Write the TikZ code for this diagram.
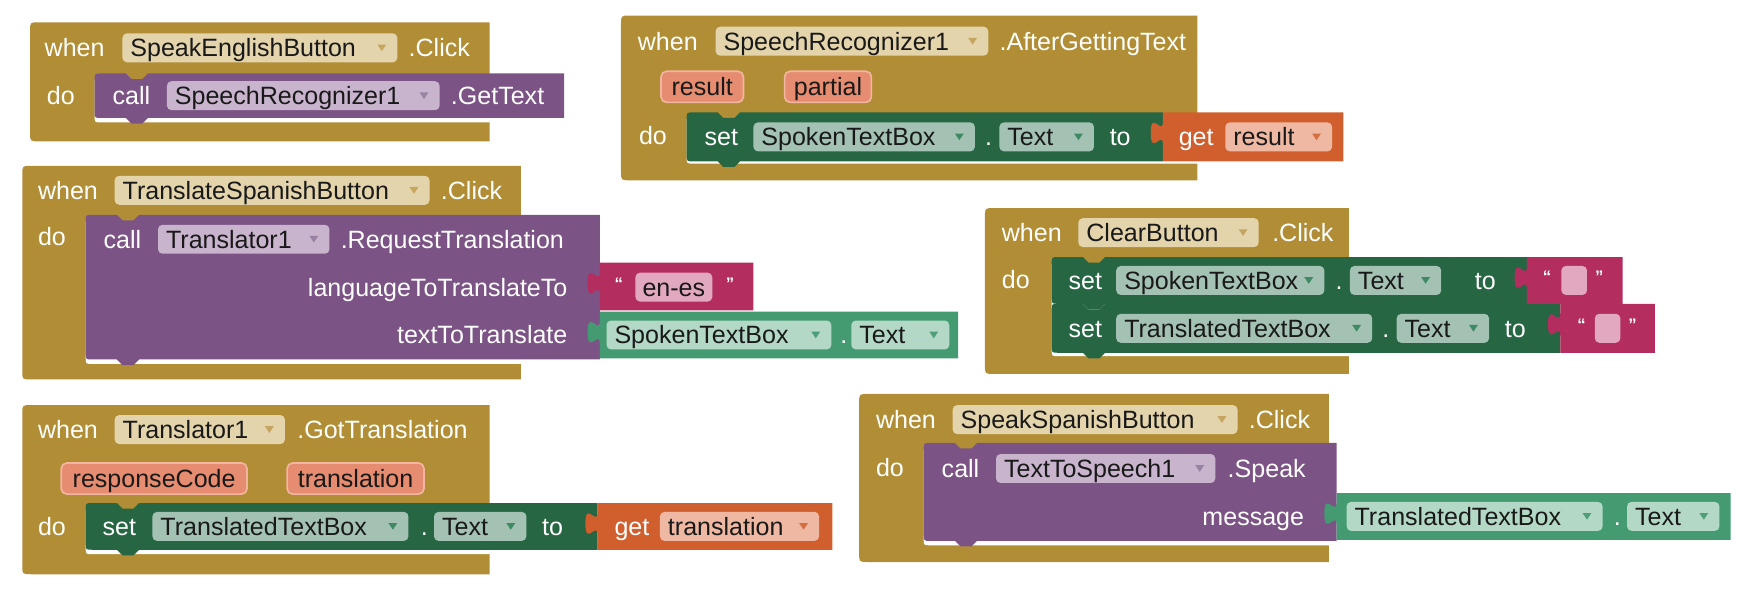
\documentclass[tikz,border=0pt]{standalone}
\usepackage{fontspec}
\setmainfont{Liberation Sans}
\definecolor{evgold}{HTML}{B18E35}
\definecolor{gpill}{HTML}{E3D4AC}
\definecolor{garrow}{HTML}{C6A560}
\definecolor{callpurple}{HTML}{7C5385}
\definecolor{ppill}{HTML}{C8B4CD}
\definecolor{parrow}{HTML}{9A82A2}
\definecolor{setgreen}{HTML}{266643}
\definecolor{spill}{HTML}{A3C2B4}
\definecolor{sarrow}{HTML}{3F8A63}
\definecolor{getgreen}{HTML}{449B71}
\definecolor{gtpill}{HTML}{B4D8C6}
\definecolor{gtarrow}{HTML}{4E9E77}
\definecolor{getorange}{HTML}{D05F2D}
\definecolor{opill}{HTML}{EFB8A2}
\definecolor{oarrow}{HTML}{D4703F}
\definecolor{strpink}{HTML}{B32D5E}
\definecolor{kpill}{HTML}{E2A8BF}
\definecolor{parfill}{HTML}{E68C70}
\definecolor{parline}{HTML}{F2B5A0}
\newcommand\blk{\fontsize{22.5}{27}\selectfont}
\newcommand\qfont{\fontsize{15}{15}\selectfont\bfseries}
% event block: left, top, right, bottom
\newcommand\evblock[4]{\fill[evgold] (#1,#2+8) .. controls (#1,#2) .. (#1+8,#2) -- (#3,#2) -- (#3,#4) -- (#1+8,#4) .. controls (#1,#4) .. (#1,#4-8) -- cycle;}
% open mouth of an event block
\newcommand\mouth[4]{\fill[white] (#1,#2) -- (#1,#4-6) .. controls (#1,#4) .. (#1+6,#4) -- (#3,#4) -- (#3,#2) -- cycle;}
% statement block with top notch and bottom tab
\newcommand\stmtblk[5]{\fill[#5] (#1,#2+6) .. controls (#1,#2) .. (#1+6,#2) -- (#1+28,#2) -- (#1+33,#2+5) -- (#1+43,#2+5) -- (#1+48,#2) -- (#3,#2) -- (#3,#4) -- (#1+48,#4) -- (#1+43,#4+5) -- (#1+33,#4+5) -- (#1+28,#4) -- (#1+6,#4) .. controls (#1,#4) .. (#1,#4-6) -- cycle;}
% value block with output tab on the left
\newcommand\valblk[5]{\fill[#5] (#1,#2) -- (#3,#2) -- (#3,#4) -- (#1,#4) -- (#1,#2+29) .. controls (#1,#2+15) and (#1-11,#2+40) .. (#1-11,#2+18.5) .. controls (#1-11,#2-3) and (#1,#2+22) .. (#1,#2+8) -- cycle;}
% dropdown field: name, x1, x2, ymid, fill, arrow colour, text
\newcommand\ddpill[7]{\fill[#5, rounded corners=4pt] (#2,#4-13) rectangle (#3,#4+13);
  \node[ptxt] (#1) at (#2+7,#4) {#7};
  \fill[#6] (#3-18,#4-3) -- (#3-10,#4-3) -- (#3-14,#4+3) -- cycle;}
% event parameter: name, x1, x2, ymid, text
\newcommand\parampill[5]{\filldraw[fill=parfill, draw=parline, line width=1.5pt, rounded corners=5pt] (#2,#4-14) rectangle (#3,#4+14);
  \node[ptxt, anchor=base] (#1) at ({(#2+#3)/2},#4) {#5};}
% text literal: name, quote1 x, pill x1, pill x2, quote2 x, text, ymid
\newcommand\strlit[7]{\node[qtxt] (#1q1) at (#2,#7-3) {“};
  \fill[kpill, rounded corners=4pt] (#3,#7-13) rectangle (#4,#7+13);
  \node[ptxt, anchor=base] (#1) at ({(#3+#4)/2},#7) {#6};
  \node[qtxt] (#1q2) at (#5,#7-3) {”};}
\begin{document}
\begin{tikzpicture}[x=1pt, y=-1pt,
  wtxt/.style={anchor=base west, yshift=-8pt, inner sep=0pt, text=white, font=\blk},
  rtxt/.style={anchor=base east, yshift=-8pt, inner sep=0pt, text=white, font=\blk},
  ptxt/.style={anchor=base west, yshift=-8pt, inner sep=0pt, text=black!90, font=\blk},
  qtxt/.style={anchor=center, inner sep=0pt, text=white, font=\qfont}]
\useasboundingbox (0,0) rectangle (1568,540);

% when SpeakEnglishButton.Click
\evblock{27}{20}{440}{127}
\mouth{85}{72}{441}{110}
\node[wtxt] (b1when) at (40,43) {when};
\ddpill{b1comp}{110}{357}{43}{gpill}{garrow}{SpeakEnglishButton}
\node[wtxt] (b1evt) at (367,43) {.Click};
\node[wtxt] (b1do) at (42,86) {do};
\stmtblk{85}{66}{507}{106}{callpurple}
\node[wtxt] (b1call) at (101,86) {call};
\ddpill{b1obj}{150}{395}{86}{ppill}{parrow}{SpeechRecognizer1}
\node[wtxt] (b1meth) at (405,86) {.GetText};

% when SpeechRecognizer1.AfterGettingText
\evblock{558}{14}{1076}{162}
\mouth{617}{107}{1077}{147}
\node[wtxt] (b2when) at (573,37) {when};
\ddpill{b2comp}{643}{888}{37}{gpill}{garrow}{SpeechRecognizer1}
\node[wtxt] (b2evt) at (898,37) {.AfterGettingText};
\parampill{b2p1}{594}{668}{78}{result}
\parampill{b2p2}{705}{783}{78}{partial}
\node[wtxt] (b2do) at (574,122) {do};
\stmtblk{617}{101}{1045}{145}{setgreen}
\node[wtxt] (b2set) at (633,123) {set};
\ddpill{b2obj}{677}{876}{123}{spill}{sarrow}{SpokenTextBox}
\node[wtxt] (b2dot) at (885,123) {.};
\ddpill{b2prop}{898}{983}{123}{spill}{sarrow}{Text}
\node[wtxt] (b2to) at (997,123) {to};
\valblk{1045}{101}{1207}{145}{getorange}
\node[wtxt] (b2get) at (1059,123) {get};
\ddpill{b2var}{1101}{1197}{123}{opill}{oarrow}{result}

% when TranslateSpanishButton.Click
\evblock{20}{149}{468}{341}
\mouth{77}{199}{469}{327}
\node[wtxt] (b3when) at (34,171) {when};
\ddpill{b3comp}{103}{386}{171}{gpill}{garrow}{TranslateSpanishButton}
\node[wtxt] (b3evt) at (396,171) {.Click};
\node[wtxt] (b3do) at (34,213) {do};
\stmtblk{77}{193}{539}{323}{callpurple}
\node[wtxt] (b3call) at (93,215) {call};
\ddpill{b3obj}{142}{296}{215}{ppill}{parrow}{Translator1}
\node[wtxt] (b3meth) at (306,215) {.RequestTranslation};
\node[rtxt] (b3arg1) at (510,258) {languageToTranslateTo};
\node[rtxt] (b3arg2) at (510,301) {textToTranslate};
\valblk{539}{236}{677}{279}{strpink}
\strlit{b3lang}{556}{571}{640}{656}{en-es}{258}
\valblk{539}{280}{861}{322}{getgreen}
\ddpill{b3src}{545}{747}{301}{gtpill}{gtarrow}{SpokenTextBox}
\node[wtxt] (b3dot) at (755,301) {.};
\ddpill{b3prop}{765}{853}{301}{gtpill}{gtarrow}{Text}

% when ClearButton.Click
\evblock{885}{187}{1212}{336}
\mouth{945}{237}{1213}{320}
\node[wtxt] (b4when) at (900,209) {when};
\ddpill{b4comp}{969}{1131}{209}{gpill}{garrow}{ClearButton}
\node[wtxt] (b4evt) at (1143,209) {.Click};
\node[wtxt] (b4do) at (900,251) {do};
\stmtblk{945}{273}{1402}{317}{setgreen}
\stmtblk{945}{231}{1372}{273}{setgreen}
\node[wtxt] (b4set1) at (960,252) {set};
\ddpill{b4obj1}{1003}{1190}{252}{spill}{sarrow}{SpokenTextBox}
\node[wtxt] (b4dot1) at (1200,252) {.};
\ddpill{b4prop1}{1213}{1295}{252}{spill}{sarrow}{Text}
\node[wtxt] (b4to1) at (1325,252) {to};
\valblk{1372}{231}{1458}{273}{strpink}
\strlit{b4str1}{1390}{1403}{1426}{1437}{}{252}
\node[wtxt] (b4set2) at (960,295) {set};
\ddpill{b4obj2}{1003}{1233}{295}{spill}{sarrow}{TranslatedTextBox}
\node[wtxt] (b4dot2) at (1242,295) {.};
\ddpill{b4prop2}{1255}{1338}{295}{spill}{sarrow}{Text}
\node[wtxt] (b4to2) at (1352,295) {to};
\valblk{1402}{273}{1487}{317}{strpink}
\strlit{b4str2}{1421}{1433}{1456}{1467}{}{295}

% when Translator1.GotTranslation
\evblock{20}{364}{440}{516}
\mouth{77}{458}{441}{498}
\node[wtxt] (b5when) at (34,386) {when};
\ddpill{b5comp}{103}{256}{386}{gpill}{garrow}{Translator1}
\node[wtxt] (b5evt) at (267,386) {.GotTranslation};
\parampill{b5p1}{55}{222}{430}{responseCode}
\parampill{b5p2}{258}{381}{430}{translation}
\node[wtxt] (b5do) at (34,473) {do};
\stmtblk{77}{452}{537}{494}{setgreen}
\node[wtxt] (b5set) at (92,473) {set};
\ddpill{b5obj}{137}{367}{473}{spill}{sarrow}{TranslatedTextBox}
\node[wtxt] (b5dot) at (378,473) {.};
\ddpill{b5prop}{390}{473}{473}{spill}{sarrow}{Text}
\node[wtxt] (b5to) at (487,473) {to};
\valblk{537}{452}{748}{494}{getorange}
\node[wtxt] (b5get) at (552,473) {get};
\ddpill{b5var}{593}{736}{473}{opill}{oarrow}{translation}

% when SpeakSpanishButton.Click
\evblock{772}{354}{1194}{505}
\mouth{830}{404}{1195}{490}
\node[wtxt] (b6when) at (787,377) {when};
\ddpill{b6comp}{856}{1112}{377}{gpill}{garrow}{SpeakSpanishButton}
\node[wtxt] (b6evt) at (1122,377) {.Click};
\node[wtxt] (b6do) at (787,420) {do};
\stmtblk{830}{398}{1201}{486}{callpurple}
\node[wtxt] (b6call) at (846,421) {call};
\ddpill{b6obj}{895}{1092}{421}{ppill}{parrow}{TextToSpeech1}
\node[wtxt] (b6meth) at (1103,421) {.Speak};
\node[rtxt] (b6arg) at (1172,464) {message};
\valblk{1201}{443}{1555}{485}{getgreen}
\ddpill{b6src}{1210}{1440}{464}{gtpill}{gtarrow}{TranslatedTextBox}
\node[wtxt] (b6dot) at (1450,464) {.};
\ddpill{b6prop}{1462}{1545}{464}{gtpill}{gtarrow}{Text}
\end{tikzpicture}
\end{document}
